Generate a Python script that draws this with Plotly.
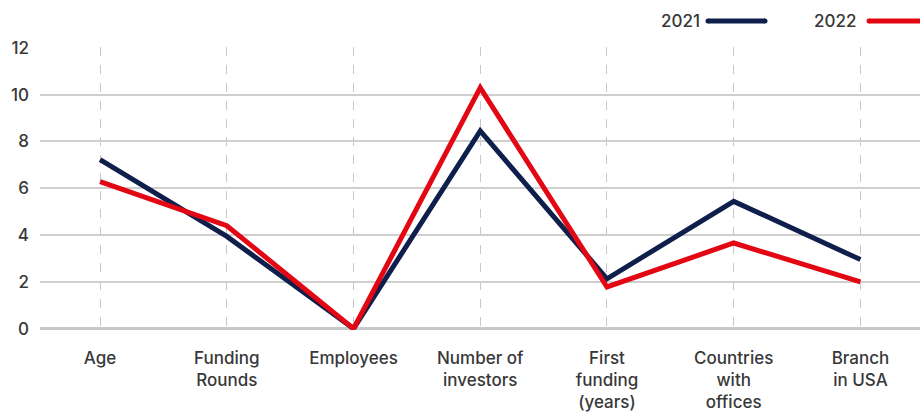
import plotly.graph_objects as go

categories = ["Age", "Funding<br>Rounds", "Employees", "Number of<br>investors",
              "First<br>funding<br>(years)", "Countries<br>with<br>offices", "Branch<br>in USA"]
values_2021 = [7.22, 3.94, 0, 8.45, 2.13, 5.44, 2.95]
values_2022 = [6.28, 4.40, 0, 10.3, 1.78, 3.66, 2.0]
y_ticks = [0, 2, 4, 6, 8, 10, 12]

NAVY = "#0f1f4b"
RED = "#e30613"
TEXT = "#383838"
FONT = "Inter"
WEIGHT = 500

MARGIN_T, MARGIN_B = 47, 84
PLOT_H = 414 - MARGIN_T - MARGIN_B

fig = go.Figure()
x_idx = list(range(len(categories)))
fig.add_trace(go.Scatter(x=x_idx, y=values_2021, mode="lines", name="2021",
                         line=dict(color=NAVY, width=5), showlegend=False))
fig.add_trace(go.Scatter(x=x_idx, y=values_2022, mode="lines", name="2022",
                         line=dict(color=RED, width=5), showlegend=False))

fig.update_layout(
    width=920, height=414,
    margin=dict(l=40, r=0, t=MARGIN_T, b=MARGIN_B, autoexpand=False),
    paper_bgcolor="white", plot_bgcolor="white",
    font=dict(family=FONT, size=17, color=TEXT, weight=WEIGHT),
    xaxis=dict(
        tickmode="array", tickvals=x_idx, ticktext=categories,
        range=[-0.474, 6.47], showgrid=True, gridcolor="#c8c8c8",
        griddash="dash", gridwidth=1, zeroline=False, showline=False,
        ticks="", ticklabelstandoff=16, fixedrange=True, automargin=False,
    ),
    yaxis=dict(
        tickvals=y_ticks, range=[-0.06, 12.04], showgrid=True,
        gridcolor="#cfcfcf", gridwidth=1.5, zeroline=True,
        zerolinecolor="#c8c8c8", zerolinewidth=2.5, showline=False,
        ticks="", ticklabelstandoff=10, fixedrange=True, automargin=False,
    ),
)

# Legend row: label followed by a short line sample, top right
legend_y = 1 + (MARGIN_T - 21) / PLOT_H
legend_items = [("2021", NAVY, 692, 708, 765), ("2022", RED, 855, 869, 930)]
for label, color, text_right, x0, x1 in legend_items:
    fig.add_annotation(x=text_right / 920, y=legend_y, xref="paper", yref="paper",
                       text=label, showarrow=False, xanchor="right", yanchor="middle",
                       font=dict(family=FONT, size=17, color=TEXT, weight=WEIGHT))
    fig.add_shape(type="line", xref="paper", yref="paper",
                  x0=(x0 - 40) / 880, x1=(x1 - 40) / 880, y0=legend_y, y1=legend_y,
                  line=dict(color=color, width=5))
    # rounded end caps
    for xc in (x0, x1):
        fig.add_shape(type="circle", xref="paper", yref="paper",
                      x0=(xc - 40 - 2.5) / 880, x1=(xc - 40 + 2.5) / 880,
                      y0=legend_y - 2.5 / PLOT_H, y1=legend_y + 2.5 / PLOT_H,
                      line=dict(width=0), fillcolor=color)

fig.write_html("out.html")
